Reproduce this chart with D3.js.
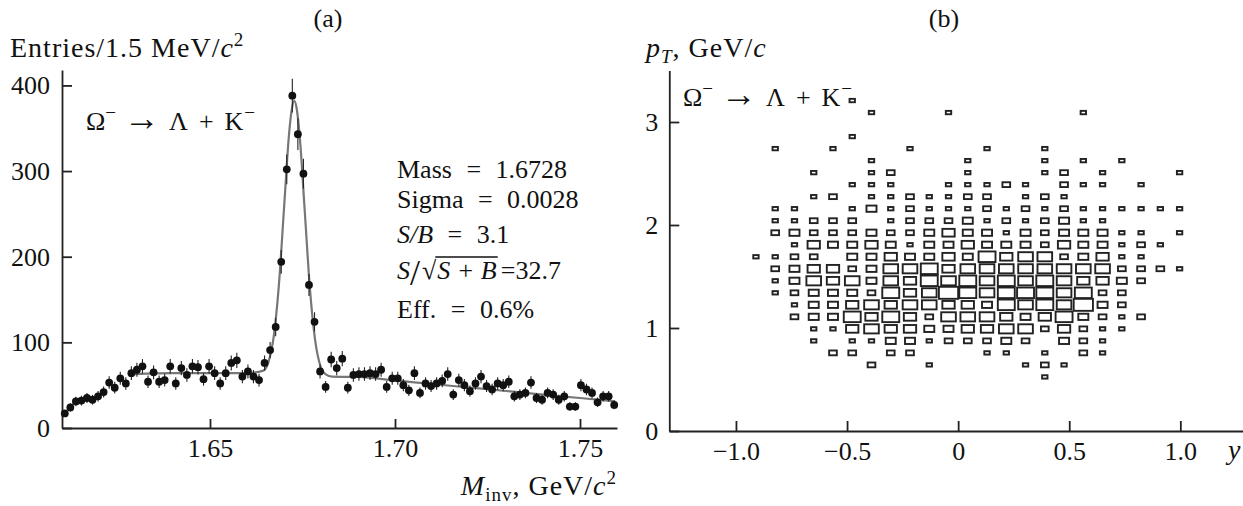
<!DOCTYPE html>
<html>
<head>
<meta charset="utf-8">
<script src="https://cdn.jsdelivr.net/npm/d3@7"></script>
<style>
  body { margin: 0; background: #fff; }
  svg { display: block; font-family: "Liberation Serif", "Times New Roman", serif; }
  .axis path, .axis line { stroke: #222; stroke-width: 1.8; }
  .axis text { font-family: "Liberation Serif", "Times New Roman", serif; font-size: 26px; fill: #111; }
  .lbl { font-size: 26px; fill: #111; }
  .title { font-size: 28px; letter-spacing: 1px; fill: #111; }
</style>
</head>
<body>
<div id="chart"></div>
<script>
// ---------- panel (a): invariant mass, 1.5 MeV bins from 1.61 to 1.76 GeV
var massRange = [1.61, 1.76];
var massBin = 0.0015;
var entries = [
  17, 24, 31, 32, 35, 33, 37, 42, 53, 47,
  58, 52, 64, 68, 72, 54, 65, 54, 56, 72,
  52, 70, 62, 72, 71, 57, 72, 64, 52, 64,
  76, 79, 60, 66, 60, 56, 76, 91, 118, 194,
  302, 388, 343, 297, 167, 124, 66, 48, 80, 70,
  81, 47, 62, 63, 63, 64, 63, 68, 48, 58,
  58, 50, 44, 64, 41, 52, 49, 52, 55, 63,
  39, 56, 50, 43, 52, 60, 49, 45, 52, 50,
  54, 37, 39, 41, 53, 35, 33, 41, 39, 33,
  37, 25, 25, 50, 45, 41, 30, 37, 37, 27
];
// fitted curve
var fitMass = [1.6295, 1.640, 1.650, 1.660, 1.6644, 1.6658, 1.6672, 1.6686, 1.6700, 1.6714,
  1.6721, 1.6728, 1.6735, 1.6742, 1.6756, 1.6770, 1.6784, 1.6798, 1.6812, 1.6830,
  1.690, 1.700, 1.710, 1.720, 1.730, 1.740, 1.750, 1.7595];
var fitEntries = [63, 64, 64, 64, 67, 77, 106, 166, 256, 345,
  372, 382, 371, 343, 254, 163, 103, 73, 63, 60,
  59.6, 55.5, 51.4, 47.3, 43.2, 39, 35, 31];
var entryTicks = [0, 100, 200, 300, 400];
var massTicks = [1.65, 1.70, 1.75];
var statLines = ["Mass = 1.6728", "Sigma = 0.0028", "S/B = 3.1", "S/√S + B =32.7", "Eff. = 0.6%"];

// ---------- panel (b): pT vs rapidity, 30 x 30 box histogram
var rapidityRange = [-1.3, 1.3];
var ptRange = [0, 3.5];
var nBins = 30;
var rapidityTicks = [-1.0, -0.5, 0, 0.5, 1.0];
var ptTicks = [0, 1, 2, 3];
// one string per pT bin, top row first; one char per rapidity bin, "." = empty
var boxRows = [
  "..............................",
  "..............................",
  ".........1....................",
  "..........1...1......1........",
  "..............................",
  ".........1....................",
  ".....1..1...1...1..1..........",
  "..........1....1...1.1.1......",
  ".......1..12...1...12.1...1...",
  ".........111..11121.211.1.....",
  ".......12.1121122.121.........",
  ".....11..131211121212111111...",
  ".....11222.122231212311.......",
  ".....23222322343313233311.1...",
  "......14334313343332433121....",
  "....1122.3343343645523411.....",
  ".....2344235564555555552221...",
  ".....13545354656565654432.....",
  ".....1233326457656665622......",
  "......133454554436565732......",
  "......2336464255543463212.....",
  ".......11454433445524211......",
  ".......1.1133122232.321.......",
  "........22.22...11.1.21.......",
  "..........2..1....121.........",
  "...................1..........",
  "..............................",
  "..............................",
  "..............................",
  ".............................."
];

var svgWidth = 1243;
var svgHeight = 506;

var svg = d3.select("#chart")
  .append("svg")
  .attr("width", svgWidth)
  .attr("height", svgHeight);

// ================= panel (a) =================
var xA = d3.scaleLinear().domain(massRange).range([62, 617]);
var yA = d3.scaleLinear().domain([0, 418]).range([428, 70]);

var gA = svg.append("g");

gA.append("g")
  .attr("class", "axis")
  .attr("transform", "translate(0,428)")
  .call(d3.axisBottom(xA).tickValues(massTicks).tickFormat(d3.format(".2f"))
    .tickSize(-9).tickSizeOuter(0).tickPadding(11));

gA.append("g")
  .attr("class", "axis")
  .attr("transform", "translate(62,0)")
  .call(d3.axisLeft(yA).tickValues(entryTicks).tickSize(-10).tickSizeOuter(0).tickPadding(12));

// fit curve
var fitLine = d3.line()
  .x(d => xA(d[0]))
  .y(d => yA(d[1]))
  .curve(d3.curveMonotoneX);

gA.append("path")
  .datum(d3.zip(fitMass, fitEntries))
  .attr("d", fitLine)
  .attr("fill", "none")
  .attr("stroke", "#777")
  .attr("stroke-width", 2.2);

var massPoints = entries.map((v, i) => ({ m: massRange[0] + (i + 0.5) * massBin, n: v }));

// error bars
gA.selectAll(".err")
  .data(massPoints)
  .enter()
  .append("line")
  .attr("class", "err")
  .attr("x1", d => xA(d.m))
  .attr("x2", d => xA(d.m))
  .attr("y1", d => yA(d.n - Math.sqrt(d.n)))
  .attr("y2", d => yA(d.n + Math.sqrt(d.n)))
  .attr("stroke", "#222")
  .attr("stroke-width", 1.1);

gA.selectAll(".pt")
  .data(massPoints)
  .enter()
  .append("circle")
  .attr("class", "pt")
  .attr("cx", d => xA(d.m))
  .attr("cy", d => yA(d.n))
  .attr("r", 3.9)
  .attr("fill", "#111");

// ================= panel (b) =================
var xB = d3.scaleLinear().domain(rapidityRange).range([669.3, 1247]);
var yB = d3.scaleLinear().domain(ptRange).range([431, 70.5]);

var gB = svg.append("g");

gB.append("g")
  .attr("class", "axis")
  .attr("transform", "translate(0,431)")
  .call(d3.axisBottom(xB).tickValues(rapidityTicks)
    .tickFormat(d => d === 0 ? "0" : d3.format(".1f")(d).replace("-", "\u2212"))
    .tickSize(-10).tickSizeOuter(0).tickPadding(11));

gB.append("g")
  .attr("class", "axis")
  .attr("transform", "translate(669.3,0)")
  .call(d3.axisLeft(yB).tickValues(ptTicks).tickFormat(d3.format("d"))
    .tickSize(-10).tickSizeOuter(0).tickPadding(11));

var xStep = (rapidityRange[1] - rapidityRange[0]) / nBins;
var yStep = (ptRange[1] - ptRange[0]) / nBins;
var cellW = xB(rapidityRange[0] + xStep) - xB(rapidityRange[0]);
var cellH = yB(ptRange[0]) - yB(ptRange[0] + yStep);

var cells = [];
boxRows.forEach(function(row, r) {
  var j = nBins - 1 - r;
  row.split("").forEach(function(ch, k) {
    var v = +ch;
    if (v > 0) {
      cells.push({
        y: rapidityRange[0] + (k + 0.5) * xStep,
        pt: ptRange[0] + (j + 0.5) * yStep,
        n: v
      });
    }
  });
});

var boxFrac = d3.scaleLinear().domain([0, d3.max(cells, d => d.n)]).range([0.16, 1.0]);

gB.selectAll(".box")
  .data(cells)
  .enter()
  .append("rect")
  .attr("class", "box")
  .attr("x", d => xB(d.y) - cellW * boxFrac(d.n) / 2)
  .attr("y", d => yB(d.pt) - cellH * boxFrac(d.n) / 2)
  .attr("width", d => cellW * boxFrac(d.n))
  .attr("height", d => cellH * boxFrac(d.n))
  .attr("fill", "none")
  .attr("stroke", "#222")
  .attr("stroke-width", 1.9);

// ================= texts =================
function decayLabel(x, y) {
  var t = svg.append("text").attr("class", "lbl").attr("x", x).attr("y", y).attr("font-size", 27);
  t.append("tspan").text("\u03A9");
  t.append("tspan").attr("font-size", 19).attr("dy", -11).text("\u2212");
  t.append("tspan").attr("dy", 11).attr("dx", 8).attr("font-size", 36).text("\u2192");
  t.append("tspan").attr("dx", 9).text("\u039B");
  t.append("tspan").attr("dx", 11).text("+");
  t.append("tspan").attr("dx", 11).text("K");
  t.append("tspan").attr("font-size", 19).attr("dy", -11).attr("dx", 1).text("\u2212");
}
decayLabel(86, 130);
decayLabel(683, 106);

svg.append("text").attr("class", "lbl").attr("x", 328).attr("y", 27)
  .attr("text-anchor", "middle").attr("font-size", 25).text("(a)");
svg.append("text").attr("class", "lbl").attr("x", 944).attr("y", 27)
  .attr("text-anchor", "middle").attr("font-size", 25).text("(b)");

// y title, panel (a)
var ty = svg.append("text").attr("class", "title").attr("x", 10).attr("y", 57);
ty.append("tspan").text("Entries/1.5 MeV/");
ty.append("tspan").attr("font-style", "italic").text("c");
ty.append("tspan").attr("font-size", 19).attr("dy", -11).text("2");

// x title, panel (a)
var tx = svg.append("text").attr("class", "title").attr("x", 617).attr("y", 495).attr("text-anchor", "end");
tx.append("tspan").attr("font-style", "italic").text("M");
tx.append("tspan").attr("font-size", 19).attr("dy", 6).text("inv");
tx.append("tspan").attr("dy", -6).text(", GeV/");
tx.append("tspan").attr("font-style", "italic").text("c");
tx.append("tspan").attr("font-size", 19).attr("dy", -11).text("2");

// y title, panel (b)
var tp = svg.append("text").attr("class", "title").attr("x", 646).attr("y", 57);
tp.append("tspan").attr("font-style", "italic").text("p");
tp.append("tspan").attr("font-style", "italic").attr("font-size", 19).attr("dy", 6).text("T");
tp.append("tspan").attr("dy", -6).text(", GeV/");
tp.append("tspan").attr("font-style", "italic").text("c");

// x title, panel (b)
svg.append("text").attr("class", "title").attr("x", 1228).attr("y", 459)
  .attr("font-style", "italic").text("y");

// fit results
var statY = [178, 208, 243, 279, 318];
var statG = svg.append("g").attr("class", "lbl");
[0, 1, 4].forEach(function(i) {
  statG.append("text").attr("x", 397).attr("y", statY[i]).attr("word-spacing", 8).text(statLines[i]);
});

var sb = statG.append("text").attr("x", 397).attr("y", statY[2]).attr("word-spacing", 8);
sb.append("tspan").attr("font-style", "italic").text("S/B");
sb.append("tspan").text(" = 3.1");

var sq = statG.append("text").attr("x", 397).attr("y", statY[3]);
sq.append("tspan").attr("font-style", "italic").text("S");
sq.append("tspan").attr("font-size", 36).attr("dy", 6).text("/");
sq.append("tspan").attr("dy", -6).attr("dx", 2).text("\u221A");
sq.append("tspan").attr("font-style", "italic").attr("dx", 1).text("S + B");
sq.append("tspan").attr("dx", 4).text("=32.7");
var sqNode = sq.node();
var ox0 = sqNode.getEndPositionOfChar(2).x - 1;
var ox1 = sqNode.getEndPositionOfChar(7).x + 1;
statG.append("line")
  .attr("x1", ox0).attr("x2", ox1)
  .attr("y1", statY[3] - 22).attr("y2", statY[3] - 22)
  .attr("stroke", "#111").attr("stroke-width", 1.3);
</script>
</body>
</html>
